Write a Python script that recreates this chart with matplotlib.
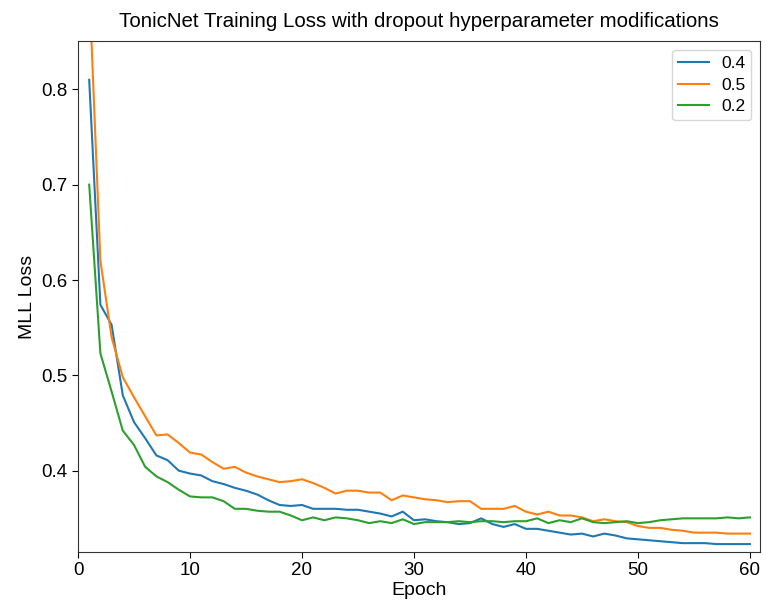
import matplotlib
matplotlib.use("Agg")
import matplotlib.pyplot as plt

plt.rcParams['font.family'] = ['Liberation Sans', 'DejaVu Sans']

epochs = list(range(1, 61))

loss_04 = [0.810, 0.574, 0.553, 0.479, 0.451, 0.434, 0.416, 0.411, 0.400, 0.397,
           0.395, 0.389, 0.386, 0.382, 0.379, 0.375, 0.369, 0.364, 0.363, 0.364,
           0.360, 0.360, 0.360, 0.359, 0.359, 0.357, 0.355, 0.352, 0.357, 0.348,
           0.349, 0.347, 0.346, 0.344, 0.345, 0.350, 0.344, 0.341, 0.344, 0.339,
           0.339, 0.337, 0.335, 0.333, 0.334, 0.331, 0.334, 0.332, 0.329, 0.328,
           0.327, 0.326, 0.325, 0.324, 0.324, 0.324, 0.323, 0.323, 0.323, 0.323]

loss_05 = [0.910, 0.620, 0.540, 0.498, 0.477, 0.457, 0.437, 0.438, 0.429, 0.419,
           0.417, 0.409, 0.402, 0.404, 0.398, 0.394, 0.391, 0.388, 0.389, 0.391,
           0.387, 0.382, 0.376, 0.379, 0.379, 0.377, 0.377, 0.369, 0.374, 0.372,
           0.370, 0.369, 0.367, 0.368, 0.368, 0.360, 0.360, 0.360, 0.363, 0.357,
           0.354, 0.357, 0.353, 0.353, 0.351, 0.347, 0.349, 0.347, 0.346, 0.342,
           0.340, 0.340, 0.338, 0.337, 0.335, 0.335, 0.335, 0.334, 0.334, 0.334]

loss_02 = [0.700, 0.523, 0.483, 0.442, 0.427, 0.404, 0.394, 0.388, 0.380, 0.373,
           0.372, 0.372, 0.368, 0.360, 0.360, 0.358, 0.357, 0.357, 0.353, 0.348,
           0.351, 0.348, 0.351, 0.350, 0.348, 0.345, 0.347, 0.345, 0.349, 0.344,
           0.346, 0.346, 0.346, 0.347, 0.346, 0.347, 0.347, 0.346, 0.347, 0.347,
           0.350, 0.345, 0.348, 0.346, 0.350, 0.346, 0.345, 0.346, 0.347, 0.345,
           0.346, 0.348, 0.349, 0.350, 0.350, 0.350, 0.350, 0.351, 0.350, 0.351]

labels = ['0.4', '0.5', '0.2']

fig = plt.figure(figsize=(7.66, 6.0), dpi=100)
ax = fig.add_axes([78/766, 1-552/600, (760-78)/766, (552-41)/600])

for ys, lab in zip([loss_04, loss_05, loss_02], labels):
    ax.plot(epochs, ys, label=lab, linewidth=1.5)

ax.set_xlim(0, 60.9)
ax.set_ylim(0.3147, 0.8507)
ax.set_xticks([0, 10, 20, 30, 40, 50, 60])
ax.set_yticks([0.4, 0.5, 0.6, 0.7, 0.8])
ax.tick_params(labelsize=13.5, direction='out', length=4)
ax.set_xlabel('Epoch', fontsize=14, labelpad=2)
ax.set_ylabel('MLL Loss', fontsize=14)
ax.set_title('TonicNet Training Loss with dropout hyperparameter modifications', fontsize=14.8, pad=10)
ax.legend(loc='upper right', fontsize=12.5, handlelength=1.75, labelspacing=0.38,
          borderpad=0.35, handletextpad=0.7)
for s in ax.spines.values():
    s.set_color('#333333')

fig.savefig('out.png', dpi=100)
